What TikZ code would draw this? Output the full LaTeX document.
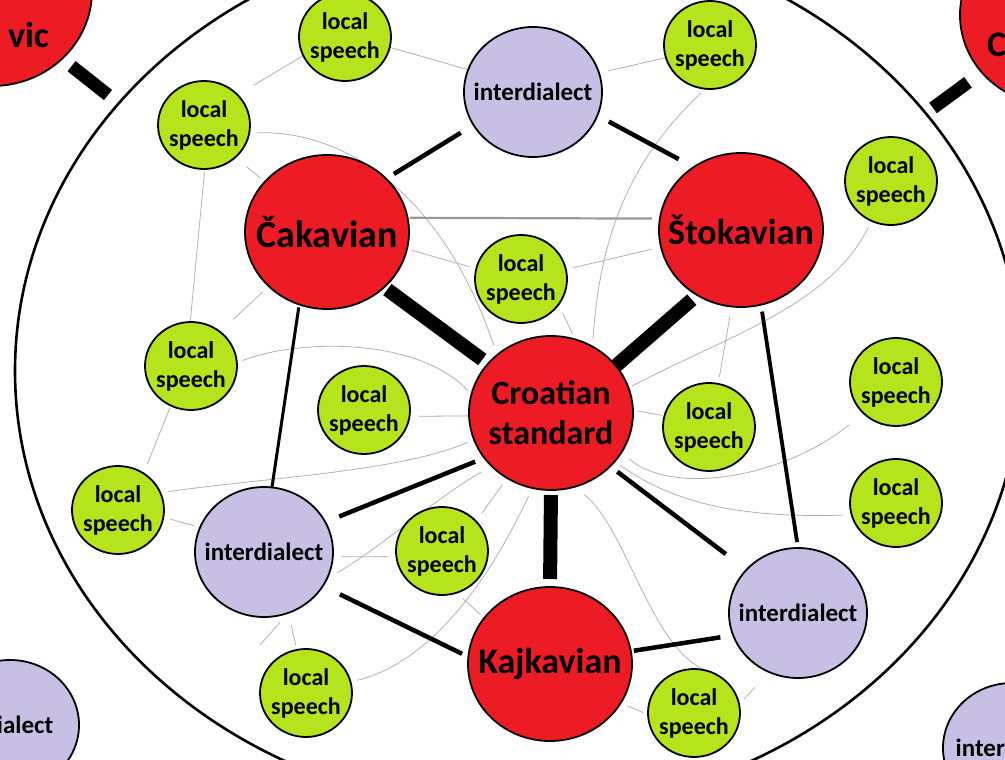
\documentclass[tikz,border=0pt]{standalone}
\usepackage{fontspec}
\setmainfont{Carlito}
\usetikzlibrary{shapes.geometric}
\pgfdeclarelayer{bg}
\pgfsetlayers{bg,main}
\definecolor{dred}{RGB}{237,28,36}
\definecolor{dpur}{RGB}{200,191,229}
\definecolor{dgrn}{RGB}{181,228,29}
\begin{document}
\begin{tikzpicture}[x=1pt,y=-1pt,
  every node/.style={inner sep=0pt, outer sep=0pt},
  gnode/.style={ellipse, draw, line width=1.8pt, fill=dgrn, minimum width=92pt, minimum height=88pt},
  pnode/.style={ellipse, draw, line width=1.8pt, fill=dpur, minimum width=138pt, minimum height=130pt},
  rnode/.style={ellipse, draw, line width=1.8pt, fill=dred, minimum width=164pt, minimum height=154pt},
  gtext/.style={font=\bfseries\fontsize{24}{29}\selectfont, align=center},
  ptext/.style={font=\bfseries\fontsize{25}{28}\selectfont},
  rtext/.style={font=\bfseries\fontsize{36}{40}\selectfont, align=center},
  ctext/.style={font=\bfseries\fontsize{34}{40}\selectfont, align=center},
  bar/.style={line width=14pt},
  midline/.style={line width=4.5pt},
  thinline/.style={draw=gray!60, line width=0.8pt},
]
\useasboundingbox (0,0) rectangle (1005,760);

% red nodes
\node[rnode, label={[rtext, font=\bfseries\fontsize{38}{40}\selectfont]center:Čakavian}] (cak) at (327,232) {};
\node[rnode, label={[rtext]center:Štokavian}] (sto) at (741,230) {};
\node[rnode, label={[ctext]center:Croatian\\standard}] (cro) at (551,413) {};
\node[rnode, label={[rtext]center:Kajkavian}] (kaj) at (550,664) {};
\node[rnode, minimum width=200pt, minimum height=190pt] (tlred) at (-8,-9) {};
\node[rtext, anchor=east] (tltxt) at (49,35) {vic};
\node[rnode, minimum width=190pt, minimum height=180pt] (trred) at (1055,15) {};
\node[rtext, anchor=west] (trtxt) at (987,45) {C};

% purple nodes
\node[pnode, label={[ptext]center:interdialect}] (ti) at (533,92) {};
\node[pnode, label={[ptext]center:interdialect}] (li) at (264,552) {};
\node[pnode, label={[ptext]center:interdialect}] (ri) at (798,613) {};
\node[pnode, label={[ptext, xshift=-16pt]center:interdialect}] (blp) at (10,725) {};
\node[pnode, label={[ptext, xshift=3pt]center:interdialect}] (brp) at (1012,748) {};

% green nodes
\node[gnode, label={[gtext]center:local\\speech}] (ls1) at (345,37) {};
\node[gnode, label={[gtext]center:local\\speech}] (ls2) at (710,45) {};
\node[gnode, label={[gtext]center:local\\speech}] (ls3) at (204,125) {};
\node[gnode, label={[gtext]center:local\\speech}] (ls4) at (891,181) {};
\node[gnode, label={[gtext]center:local\\speech}] (ls5) at (521,279) {};
\node[gnode, label={[gtext]center:local\\speech}] (ls6) at (191,366) {};
\node[gnode, label={[gtext]center:local\\speech}] (ls7) at (364,410) {};
\node[gnode, label={[gtext]center:local\\speech}] (ls8) at (709,427) {};
\node[gnode, label={[gtext]center:local\\speech}] (ls9) at (896,382) {};
\node[gnode, label={[gtext]center:local\\speech}] (ls10) at (896,503) {};
\node[gnode, label={[gtext]center:local\\speech}] (ls11) at (118,510) {};
\node[gnode, label={[gtext]center:local\\speech}] (ls12) at (442,551) {};
\node[gnode, label={[gtext]center:local\\speech}] (ls13) at (306,693) {};
\node[gnode, label={[gtext]center:local\\speech}] (ls14) at (694,713) {};

\coordinate (tlend) at (108,95);
\coordinate (trend) at (933,108);
\coordinate (y1) at (260,645);

\begin{pgfonlayer}{bg}
\fill[white] (0,0) rectangle (1005,760);
\draw[line width=2.6pt] (518,371) ellipse [x radius=503, y radius=440];

% thin grey links
\draw[thinline] (ls1.347) -- (ti.161);
\draw[thinline, shorten >=19pt] (ls1.204) -- (ls3.42);
\draw[thinline, shorten <=9pt] (ti.16) -- (ls2.196);
\draw[thinline, shorten <=15pt, shorten >=6pt] (ls3.314) -- (cak.141);
\draw[thinline, shorten <=3pt] (ls3.271) -- (ls6.91);
\draw[thinline, shorten <=18pt, shorten >=8pt] (ls6.50) -- (cak.223);
\draw[thinline, shorten <=2pt, shorten >=10pt] (ls6.243) -- (ls11.55);
\draw[thinline, shorten <=9pt] (ls7.352) -- (cro.182);
\draw[thinline, shorten <=7pt, shorten >=6pt] (ls11.351) -- (li.159);
\draw[thinline, shorten <=9pt, shorten >=9pt] (li.356) -- (ls12.187);
\draw[thinline, shorten <=5pt, shorten >=13pt] (ls13.102) -- (li.292);
\draw[thinline, shorten >=13pt] (y1) -- (li.292);
\draw[thinline, shorten <=9pt, shorten >=5pt] (ls12.289) -- (kaj.145);
\draw[thinline, shorten <=7pt, shorten >=5pt] (kaj.331) -- (ls14.182);
\draw[thinline, shorten <=7pt, shorten >=21pt] (ls14.11) -- (ri.244);
\draw[thinline, shorten <=5pt, shorten >=3pt] (cro.2) -- (ls8.166);
\draw[thinline, shorten <=5pt, shorten >=7pt] (cak.348) -- (ls5.167);
\draw[thinline, shorten <=7pt, shorten >=10pt] (ls5.12) -- (sto.192);
\draw[thinline, shorten <=10pt, shorten >=6pt] (ls5.326) -- (cro.72);
\draw[thinline, shorten <=10pt, shorten >=7pt] (sto.263) -- (ls8.78);
\draw[thinline, shorten <=10pt, shorten >=8pt] (ls12.41) -- (cro.236);

% thin grey curves
\draw[thinline, shorten <=8pt, shorten >=10pt] (ls3.350) .. controls (350,130) and (445,200) .. (cro.133);
\draw[thinline, shorten <=6pt, shorten >=8pt] (ls2.264) .. controls (630,160) and (600,235) .. (cro.58);
\draw[thinline, shorten <=6pt, shorten >=5pt] (ls6.4) .. controls (300,338) and (420,338) .. (cro.167);
\draw[thinline, shorten <=8pt, shorten >=7pt] (ls11.22) .. controls (260,478) and (400,472) .. (cro.199);
\draw[thinline, shorten <=12pt, shorten >=12pt] (li.337) .. controls (380,548) and (440,495) .. (cro.222);
\draw[thinline, shorten <=7pt, shorten >=9pt] (ls13.14) .. controls (420,665) and (480,600) .. (cro.256);
\draw[thinline, shorten <=13pt, shorten >=3pt] (cro.287) .. controls (625,525) and (650,645) .. (ls14.74);
\draw[thinline, shorten <=4pt, shorten >=7pt] (cro.18) .. controls (730,335) and (830,305) .. (ls4.244);
\draw[thinline, shorten <=10pt, shorten >=19pt] (cro.331) .. controls (670,495) and (780,480) .. (ls9.224);
\draw[thinline, shorten <=7pt, shorten >=9pt] (cro.323) .. controls (675,505) and (745,518) .. (ls10.195);

% grey dialect link
\draw[draw=gray!80, line width=2.2pt, shorten <=2pt, shorten >=8pt] (cak.10) -- (sto.172);

% medium black links
\draw[midline, shorten <=15pt, shorten >=9pt] (ti.209) -- (cak.42);
\draw[midline, shorten <=13pt, shorten >=17pt] (ti.340) -- (sto.127);
\draw[line width=3pt, shorten <=3pt] (cak.249) -- (li.83);
\draw[line width=3.8pt, shorten <=7pt, shorten >=6pt] (sto.285) -- (ri.90);
\draw[midline, shorten <=15pt, shorten >=10pt] (li.26) -- (cro.214);
\draw[midline, shorten <=19pt, shorten >=7pt] (li.330) -- (kaj.175);
\draw[midline, shorten <=26pt, shorten >=9pt] (ri.140) -- (cro.318);
\draw[midline, shorten <=13pt, shorten >=3pt] (ri.199) -- (kaj.9);

% thick bars
\draw[bar, shorten <=4pt, shorten >=7pt] (cak.316) -- (cro.142);
\draw[bar, shorten <=7pt] (sto.236) -- (cro.36);
\draw[bar, shorten <=5pt, shorten >=8pt] (cro.270) -- (kaj.90);
\draw[bar, line width=13pt, shorten <=12pt] (tlred.316) -- (tlend);
\draw[bar, line width=13pt, shorten <=17pt] (trred.218) -- (trend);
\end{pgfonlayer}
\end{tikzpicture}
\end{document}
